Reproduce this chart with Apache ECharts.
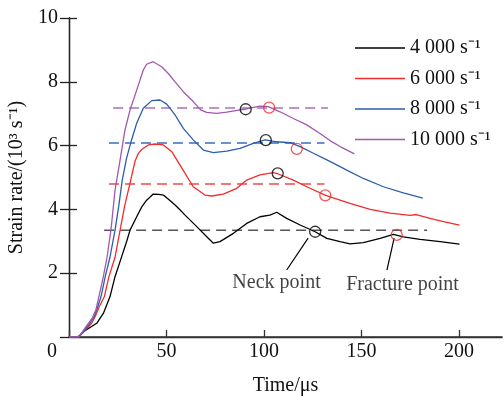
<!DOCTYPE html>
<html>
<head>
<meta charset="utf-8">
<script src="https://cdn.jsdelivr.net/npm/echarts@6/dist/echarts.min.js"></script>
<style>
  html, body { margin: 0; padding: 0; background: #fff; }
  #main { width: 504px; height: 396px; }
</style>
</head>
<body>
<div id="main"></div>
<script>
// curve data: [time (us), strain rate (10^3 s^-1)]
var rate4000 = [[0,0],[4.5,0],[8.2,0.2],[14.2,0.43],[17.6,0.74],[21,1.26],[23.6,1.89],[27,2.52],[29.6,3.0],[31.3,3.35],[34.7,3.77],[37.3,4.08],[39.8,4.29],[43.2,4.48],[46,4.47],[48.4,4.45],[51,4.32],[54.4,4.14],[57,3.98],[59.5,3.82],[65.5,3.46],[70,3.18],[74,2.94],[77.4,2.99],[84.3,3.25],[91.1,3.56],[97.9,3.77],[103,3.82],[106.5,3.91],[111.6,3.72],[118.5,3.51],[126.2,3.30],[132.2,3.09],[139,2.99],[144.1,2.92],[150.9,2.96],[159.5,3.09],[166.3,3.22],[171.4,3.14],[180,3.06],[190.3,2.99],[200.2,2.91]];
var rate6000 = [[0,0],[5,0],[11.6,0.43],[13.5,0.65],[15.5,0.95],[18.1,1.26],[20.5,1.9],[23.6,2.5],[26.2,3.35],[28.5,4.1],[31.2,4.8],[33.8,5.5],[35.5,5.75],[37.3,5.88],[40.7,6.02],[44.1,6.05],[48.4,6.02],[52.7,5.81],[57.8,5.30],[63.7,4.71],[69.7,4.45],[73.2,4.42],[79.1,4.48],[86,4.66],[91.1,4.92],[97.9,5.08],[104.8,5.15],[107.3,5.11],[115,4.92],[121.9,4.71],[131.3,4.45],[139,4.29],[144.1,4.19],[154.4,4.0],[164.6,3.88],[174.9,3.81],[178,3.84],[185.1,3.72],[192,3.62],[200.2,3.51]];
var rate8000 = [[0,0],[5,0],[10.8,0.43],[13,0.65],[14.5,0.9],[16.4,1.26],[18.6,1.9],[21,2.5],[23.6,3.35],[25.5,4.1],[27.3,4.92],[29.5,5.6],[31.6,6.08],[34.7,6.70],[38.1,7.17],[42.4,7.41],[46.7,7.43],[50.1,7.30],[54.4,6.96],[58.6,6.54],[63.7,6.18],[68.9,5.86],[74,5.78],[80.9,5.83],[87.7,5.91],[94.5,6.07],[100.5,6.18],[106.5,6.12],[113.3,6.09],[118.5,5.97],[125.3,5.76],[132.2,5.55],[139,5.34],[142.4,5.23],[150.9,4.97],[161.2,4.71],[171.4,4.52],[181.4,4.35]];
var rate10000 = [[0,0],[5,0],[9.9,0.43],[12,0.6],[13.8,0.85],[15.3,1.26],[17.3,1.8],[19.5,2.5],[21.5,3.35],[23.6,4.6],[26.2,5.55],[28.7,6.49],[31.3,7.12],[34.7,7.74],[38.1,8.37],[39.8,8.55],[43.2,8.63],[47.5,8.47],[50.9,8.26],[54.4,8.0],[58.6,7.69],[63.7,7.38],[67.5,7.12],[70.6,7.04],[75.7,7.01],[80.9,7.05],[87.7,7.12],[90.3,7.14],[97.9,7.24],[102.2,7.22],[108.2,7.06],[115,6.85],[121.9,6.65],[128.7,6.38],[134,6.15],[139,5.97],[146.3,5.74]];

var seriesNames = ['4 000 s\u207B\u00B9', '6 000 s\u207B\u00B9', '8 000 s\u207B\u00B9', '10 000 s\u207B\u00B9'];
var seriesData = [rate4000, rate6000, rate8000, rate10000];
var lineColors = ['#000000', '#f52a2a', '#2b5eae', '#a258ac'];
var dashColors = ['#555555', '#f04a4a', '#3a6cc0', '#b070c0'];

// mean strain rate levels (dashed) and their time span
var dashLevels = [3.35, 4.80, 6.08, 7.18];
var dashStart = [18, 20.5, 20.5, 22.6];
var dashEnd = [183.6, 131, 131, 132.8];

// neck / fracture points
var neckPoints = [[126.2,3.30],[107,5.13],[100.9,6.17],[90.6,7.14]];
var fracturePoints = [[168,3.20],[131.4,4.44],[116.8,5.90],[102.6,7.19]];

// annotations
var noteText = ['Neck point', 'Fracture point'];
var notePos = [[106.4,1.70],[171,1.64]];
var noteLeaders = [[[111.6,2.10],[122.6,3.10]], [[163,2.10],[166.7,3.10]]];

var xTicks = [0, 50, 100, 150, 200];

var font = 'Liberation Serif';
var chart = echarts.init(document.getElementById('main'));

var series = [];
for (var i = 0; i < dashLevels.length; i++) {
  series.push({
    type: 'line',
    name: 'dash' + i,
    data: [[dashStart[i], dashLevels[i]], [dashEnd[i], dashLevels[i]]],
    symbol: 'none',
    silent: true,
    lineStyle: { color: dashColors[i], width: 1.5, type: [10, 6] },
    z: 2
  });
}
for (var i = 0; i < seriesData.length; i++) {
  series.push({
    type: 'line',
    name: seriesNames[i],
    data: seriesData[i],
    symbol: 'none',
    color: lineColors[i],
    lineStyle: { color: lineColors[i], width: 1.3 },
    z: 3
  });
}
series.push({
  type: 'scatter',
  name: 'neck',
  data: neckPoints,
  symbol: 'circle',
  symbolSize: 11,
  itemStyle: { color: 'rgba(0,0,0,0)', borderColor: '#000', borderWidth: 1.3 },
  z: 5
});
series.push({
  type: 'scatter',
  name: 'fracture',
  data: fracturePoints,
  symbol: 'circle',
  symbolSize: 11,
  itemStyle: { color: 'rgba(0,0,0,0)', borderColor: '#f03030', borderWidth: 1.3 },
  z: 5
});
for (var i = 0; i < noteLeaders.length; i++) {
  series.push({
    type: 'line',
    name: 'leader' + i,
    data: noteLeaders[i],
    symbol: 'none',
    silent: true,
    lineStyle: { color: '#000', width: 1.2 },
    z: 4
  });
}
series.push({
  type: 'scatter',
  name: 'notes',
  data: notePos.map(function(p, k) { return { value: p, name: noteText[k] }; }),
  symbolSize: 0,
  silent: true,
  label: {
    show: true,
    position: 'inside',
    formatter: '{b}',
    color: '#111',
    fontFamily: font,
    fontSize: 20
  }
});

chart.setOption({
  animation: false,
  backgroundColor: '#fff',
  grid: { left: 69, right: 2, top: 18, bottom: 59, containLabel: false, outerBoundsMode: 'none' },
  legend: {
    data: seriesNames,
    orient: 'vertical',
    left: 350,
    top: 33,
    icon: 'rect',
    itemWidth: 50,
    itemHeight: 1.6,
    itemGap: 10.5,
    textStyle: { fontFamily: font, fontSize: 20, color: '#111', lineHeight: 20 }
  },
  xAxis: [{
    type: 'value',
    min: 0,
    max: 222,
    interval: 50,
    name: 'Time/\u03BCs',
    nameLocation: 'middle',
    nameGap: 39,
    nameTextStyle: { fontFamily: font, fontSize: 20, color: '#111' },
    axisLine: { lineStyle: { color: '#333', width: 1.5 } },
    axisTick: { inside: true, length: 7, customValues: xTicks, lineStyle: { color: '#333', width: 1.3 } },
    axisLabel: {
      customValues: xTicks,
      margin: 5,
      fontFamily: font,
      fontSize: 20,
      color: '#111',
      formatter: function(v) { return v === 0 ? '{z|0}' : String(v); },
      rich: { z: { fontFamily: font, fontSize: 20, color: '#111', padding: [0, 34, 0, 0] } }
    },
    splitLine: { show: false }
  }, {
    type: 'value',
    position: 'top',
    min: 0,
    max: 222,
    axisLine: { show: true, lineStyle: { color: '#333', width: 1.3 } },
    axisTick: { show: false },
    axisLabel: { show: false },
    splitLine: { show: false }
  }],
  yAxis: [{
    type: 'value',
    min: 0,
    max: 10,
    interval: 2,
    name: 'Strain rate/(10\u00B3 s\u207B\u00B9)',
    nameLocation: 'middle',
    nameGap: 31,
    nameTextStyle: { fontFamily: font, fontSize: 20, color: '#111' },
    axisLine: { show: true, lineStyle: { color: '#222', width: 1.3 } },
    axisTick: { inside: true, length: 8, lineStyle: { color: '#222', width: 1.3 } },
    axisLabel: { showMinLabel: false, margin: 11, fontFamily: font, fontSize: 20, color: '#111' },
    splitLine: { show: false }
  }, {
    type: 'value',
    position: 'left',
    min: 0,
    max: 10,
    interval: 2,
    axisLine: { show: true, lineStyle: { color: '#222', width: 1.3 } },
    axisTick: { inside: false, length: 9, lineStyle: { color: '#222', width: 1.3 } },
    axisLabel: { show: false },
    splitLine: { show: false }
  }],
  series: series
});
</script>
</body>
</html>
